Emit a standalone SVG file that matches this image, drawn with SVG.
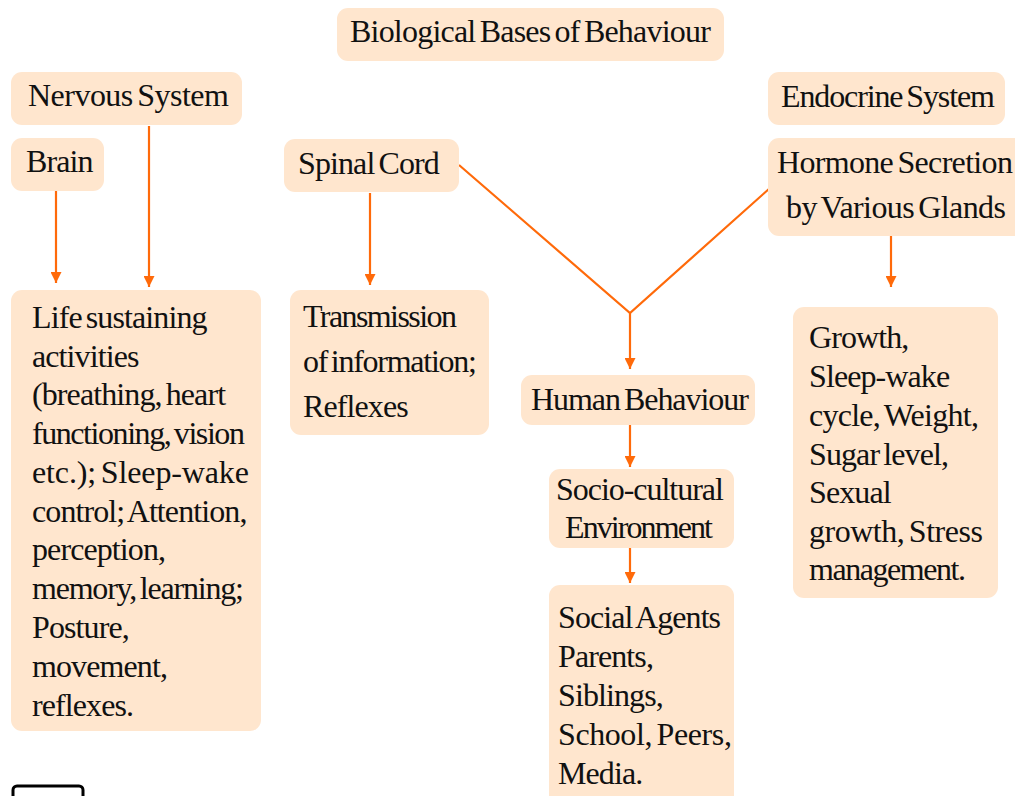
<svg xmlns="http://www.w3.org/2000/svg" width="1015" height="796" viewBox="0 0 1015 796">
<style>
.box{fill:#FFE6CE;}
.lbl{font-family:'Liberation Serif','Times New Roman',serif;font-size:32px;fill:#111;letter-spacing:-0.9px;word-spacing:-3px;}
.cn{fill:none;stroke:#FF6A0A;stroke-width:2.2;}
</style>
<defs>
<marker id="ah" viewBox="0 0 10 10" refX="10" refY="5" markerWidth="5" markerHeight="5" orient="auto" markerUnits="strokeWidth">
<path d="M0,0 L10,5 L0,10 z" fill="#FF6A0A"/>
</marker>
</defs>
<rect width="1015" height="796" fill="#fff"/>
<g id="connectors">
<line class="cn" x1="56" y1="191" x2="56" y2="283" marker-end="url(#ah)"/>
<line class="cn" x1="149" y1="126" x2="149" y2="287" marker-end="url(#ah)"/>
<line class="cn" x1="370" y1="193" x2="370" y2="285" marker-end="url(#ah)"/>
<polyline class="cn" points="459,165 630,313 770,188"/>
<line class="cn" x1="630" y1="313" x2="630" y2="369" marker-end="url(#ah)"/>
<line class="cn" x1="630" y1="425" x2="630" y2="467" marker-end="url(#ah)"/>
<line class="cn" x1="630" y1="548" x2="630" y2="583" marker-end="url(#ah)"/>
<line class="cn" x1="891" y1="236" x2="891" y2="287" marker-end="url(#ah)"/>
</g>
<g font-family="'Liberation Serif', 'Times New Roman', serif">
<g id="title"><rect class="box" x="337" y="8" width="387" height="53" rx="11"/><text class="lbl" x="350" y="42" textLength="360">Biological Bases of Behaviour</text></g>
<g id="nervous"><rect class="box" x="11" y="72" width="231" height="53" rx="11"/><text class="lbl" x="28" y="106" textLength="200">Nervous System</text></g>
<g id="brain"><rect class="box" x="11" y="138" width="93" height="53" rx="11"/><text class="lbl" x="26" y="172">Brain</text></g>
<g id="spinal"><rect class="box" x="284" y="139" width="175" height="53" rx="11"/><text class="lbl" x="298" y="174">Spinal Cord</text></g>
<g id="endocrine"><rect class="box" x="768" y="72" width="237" height="53" rx="11"/><text class="lbl" x="781" y="107" textLength="213">Endocrine System</text></g>
<g id="hormone"><rect class="box" x="768" y="138" width="260" height="98" rx="11"/><text class="lbl" x="777" y="173" textLength="235">Hormone Secretion</text><text class="lbl" x="786" y="218" textLength="219">by Various Glands</text></g>
<g id="life"><rect class="box" x="11" y="290" width="250" height="441" rx="11"/>
<text class="lbl" x="32" y="328">Life sustaining</text>
<text class="lbl" x="32" y="367">activities</text>
<text class="lbl" x="32" y="405">(breathing, heart</text>
<text class="lbl" x="32" y="444" textLength="212">functioning, vision</text>
<text class="lbl" x="32" y="483" textLength="216">etc.); Sleep-wake</text>
<text class="lbl" x="32" y="522">control; Attention,</text>
<text class="lbl" x="32" y="560">perception,</text>
<text class="lbl" x="32" y="599" textLength="211">memory, learning;</text>
<text class="lbl" x="32" y="638">Posture,</text>
<text class="lbl" x="32" y="677">movement,</text>
<text class="lbl" x="32" y="716">reflexes.</text>
</g>
<g id="transmission"><rect class="box" x="290" y="290" width="199" height="145" rx="11"/>
<text class="lbl" x="303" y="327" textLength="153">Transmission</text>
<text class="lbl" x="303" y="372" textLength="173">of information;</text>
<text class="lbl" x="303" y="417">Reflexes</text>
</g>
<g id="human"><rect class="box" x="521" y="375" width="234" height="50" rx="11"/><text class="lbl" x="531" y="410" textLength="217">Human Behaviour</text></g>
<g id="socio"><rect class="box" x="549" y="469" width="185" height="79" rx="11"/><text class="lbl" x="556" y="500" textLength="167">Socio-cultural</text><text class="lbl" x="565" y="538" textLength="147">Environment</text></g>
<g id="agents"><rect class="box" x="549" y="585" width="185" height="230" rx="11"/>
<text class="lbl" x="558" y="628">Social Agents</text>
<text class="lbl" x="558" y="667">Parents,</text>
<text class="lbl" x="558" y="706">Siblings,</text>
<text class="lbl" x="558" y="745" textLength="173">School, Peers,</text>
<text class="lbl" x="558" y="784">Media.</text>
</g>
<g id="effects"><rect class="box" x="793" y="307" width="205" height="291" rx="11"/>
<text class="lbl" x="809" y="348">Growth,</text>
<text class="lbl" x="809" y="387">Sleep-wake</text>
<text class="lbl" x="809" y="426" textLength="169">cycle, Weight,</text>
<text class="lbl" x="809" y="465">Sugar level,</text>
<text class="lbl" x="809" y="503">Sexual</text>
<text class="lbl" x="809" y="542" textLength="173">growth, Stress</text>
<text class="lbl" x="809" y="580" textLength="156">management.</text>
</g>
</g>
<g id="corner-box"><rect x="13" y="786" width="70" height="20" rx="4" fill="#fff" stroke="#000" stroke-width="3"/></g>
</svg>
